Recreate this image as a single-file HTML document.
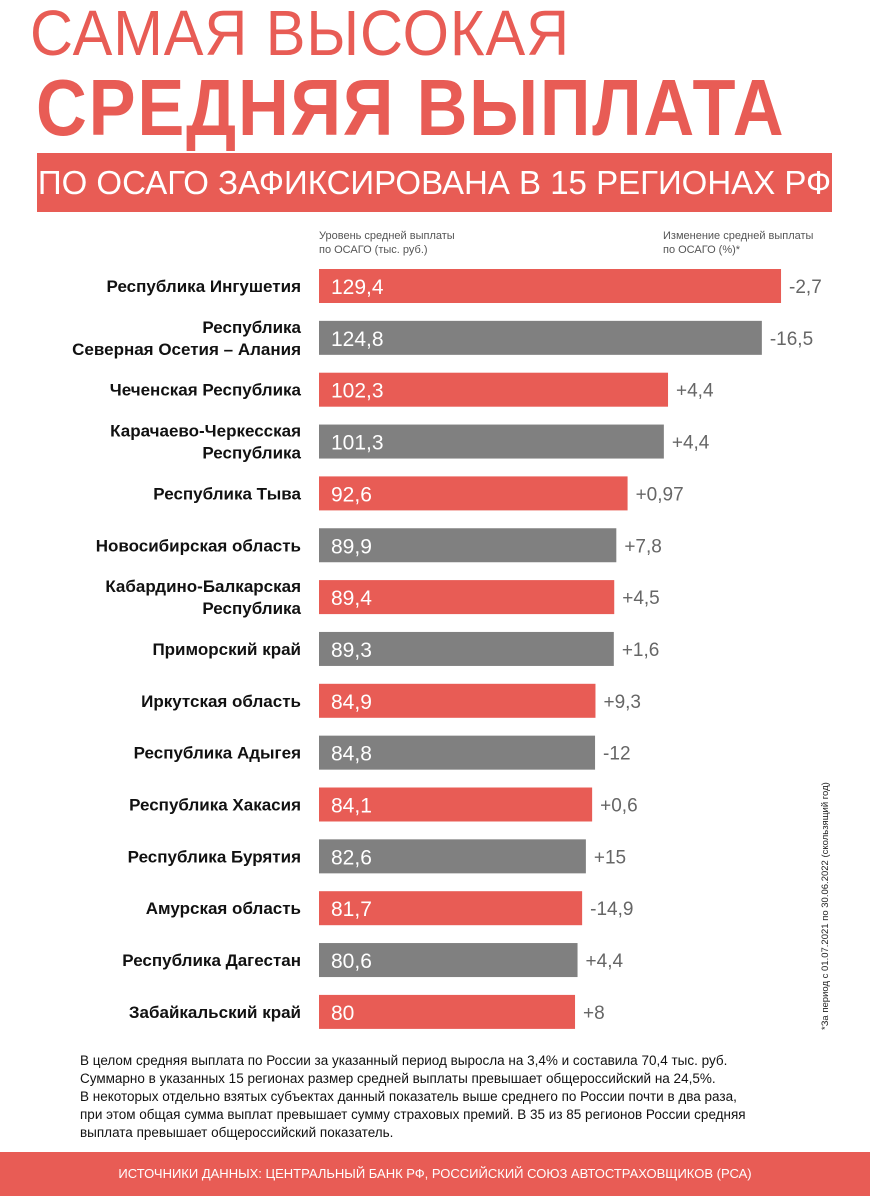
<!DOCTYPE html>
<html><head><meta charset="utf-8">
<style>
body{margin:0;width:870px;height:1196px;background:#fff;font-family:"Liberation Sans",sans-serif;position:relative;overflow:hidden}
.abs{position:absolute}
#t1{left:30px;top:-4px;font-size:64px;color:#e85c55;letter-spacing:1px;white-space:nowrap;transform:scaleX(0.93);transform-origin:left}
#t2{left:36px;top:62px;font-size:80px;font-weight:bold;color:#e85c55;white-space:nowrap;letter-spacing:2px;transform:scaleX(0.88);transform-origin:left}
#banner{left:37px;top:153px;width:795px;height:59px;background:#e85c55;color:#fff;font-size:33px;line-height:59px;text-align:center;white-space:nowrap}
.hdr{font-size:11px;color:#555;line-height:14px}
#note{left:80px;top:1052px;font-size:13.5px;line-height:18px;color:#111;width:740px}
#footer{left:0;top:1152px;width:870px;height:44px;background:#e85c55;color:#fff;font-size:13px;line-height:44px;text-align:center}
#side{left:820px;top:1030px;font-size:9.5px;color:#222;transform:rotate(-90deg);transform-origin:left top;white-space:nowrap}
</style></head><body>
<div id="t1" class="abs">САМАЯ ВЫСОКАЯ</div>
<div id="t2" class="abs">СРЕДНЯЯ ВЫПЛАТА</div>
<div id="banner" class="abs">ПО ОСАГО ЗАФИКСИРОВАНА В 15 РЕГИОНАХ РФ</div>
<div class="abs hdr" style="left:319px;top:229px">Уровень средней выплаты<br>по ОСАГО (тыс. руб.)</div>
<div class="abs hdr" style="left:663px;top:229px">Изменение средней выплаты<br>по ОСАГО (%)*</div>
<svg id="chart" class="abs" style="left:0;top:0" width="870" height="1196"></svg>
<div id="side" class="abs">*За период с 01.07.2021 по 30.06.2022 (скользящий год)</div>
<div id="note" class="abs">В целом средняя выплата по России за указанный период выросла на 3,4% и составила 70,4 тыс. руб.<br>Суммарно в указанных 15 регионах размер средней выплаты превышает общероссийский на 24,5%.<br>В некоторых отдельно взятых субъектах данный показатель выше среднего по России почти в два раза,<br>при этом общая сумма выплат превышает сумму страховых премий. В 35 из 85 регионов России средняя<br>выплата превышает общероссийский показатель.</div>
<div id="footer" class="abs">ИСТОЧНИКИ ДАННЫХ: ЦЕНТРАЛЬНЫЙ БАНК РФ, РОССИЙСКИЙ СОЮЗ АВТОСТРАХОВЩИКОВ (РСА)</div>
<script>
const regions=[["Республика Ингушетия"],["Республика","Северная Осетия – Алания"],["Чеченская Республика"],["Карачаево-Черкесская","Республика"],["Республика Тыва"],["Новосибирская область"],["Кабардино-Балкарская","Республика"],["Приморский край"],["Иркутская область"],["Республика Адыгея"],["Республика Хакасия"],["Республика Бурятия"],["Амурская область"],["Республика Дагестан"],["Забайкальский край"]];
const values=[129.4,124.8,102.3,101.3,92.6,89.9,89.4,89.3,84.9,84.8,84.1,82.6,81.7,80.6,80];
const changes=["-2,7","-16,5","+4,4","+4,4","+0,97","+7,8","+4,5","+1,6","+9,3","-12","+0,6","+15","-14,9","+4,4","+8"];
const NS="http://www.w3.org/2000/svg";
const svg=document.getElementById('chart');
const x0=319;
function xw(v){return (v-18.6)*4.17;}
function yc(i){return 286+i*51.85;}
function mk(tag,attrs,text){const e=document.createElementNS(NS,tag);for(const k in attrs)e.setAttribute(k,attrs[k]);if(text!==undefined)e.textContent=text;svg.appendChild(e);return e;}
values.forEach((v,i)=>{
 const c=yc(i), w=xw(v);
 const bar=mk('rect',{x:x0,y:c-17,width:w,height:34,fill:i%2?'#808080':'#e85c55'});
 
 
 const vl=mk('text',{x:x0+12,y:c+8,'font-size':21,fill:'#fff','font-family':'Liberation Sans'},String(v).replace('.',','));
 
 
 const cl=mk('text',{x:x0+w+8,y:c+7,'font-size':19,fill:'#666','font-family':'Liberation Sans'},changes[i]);
 
 
 const lines=regions[i];
 lines.forEach((ln,j)=>{
  const dy=lines.length===1?6:(j===0?-5:17);
  const t=mk('text',{x:301,y:c+dy,'font-size':17,'font-weight':'bold',fill:'#111','text-anchor':'end','font-family':'Liberation Sans'},ln);
  
  
 });
});
</script>
</body></html>
